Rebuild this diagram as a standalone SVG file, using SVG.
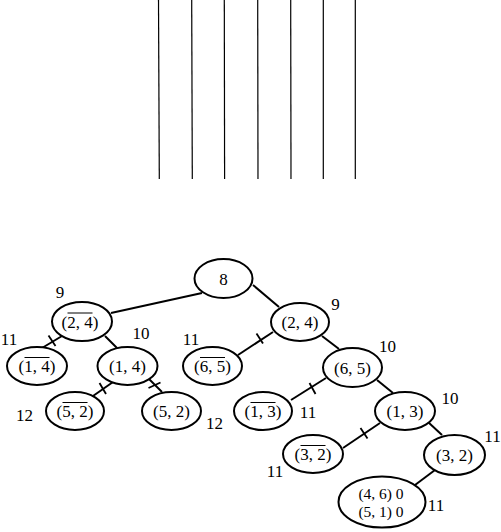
<svg xmlns="http://www.w3.org/2000/svg" width="501" height="532" viewBox="0 0 501 532">
<style>
.n{fill:#fff;stroke:#000;stroke-width:2}
.t{font-family:"Liberation Serif","DejaVu Serif",serif;font-size:17px;text-anchor:middle;fill:#000}
.s{font-size:15.5px}
.e{stroke:#000;stroke-width:2;fill:none}
.k{stroke:#000;stroke-width:1.8}
.o{stroke:#000;stroke-width:1}
.v{stroke:#000;stroke-width:1.2}
</style>
<rect width="501" height="532" fill="#fff"/>
<g id="bars">
<line class="v" x1="158.5" y1="0" x2="159.3" y2="179"/>
<line class="v" x1="191.7" y1="0" x2="192.3" y2="179"/>
<line class="v" x1="224.3" y1="0" x2="224.6" y2="179"/>
<line class="v" x1="257.7" y1="0" x2="258" y2="179"/>
<line class="v" x1="290.7" y1="0" x2="291" y2="179"/>
<line class="v" x1="323.3" y1="0" x2="323.3" y2="179"/>
<line class="v" x1="355.3" y1="0" x2="355.3" y2="179"/>
</g>
<g id="connectors">
<line class="e" x1="202" y1="293" x2="111" y2="313"/>
<line class="e" x1="253" y1="285" x2="279" y2="307"/>
<line class="e" x1="62" y1="336" x2="42" y2="348"/>
<line class="k" x1="48.5" y1="335.5" x2="55.5" y2="346"/>
<line class="e" x1="105" y1="336" x2="117" y2="348"/>
<line class="e" x1="113" y1="382" x2="93" y2="396"/>
<line class="k" x1="99.5" y1="383" x2="106" y2="394"/>
<line class="e" x1="148" y1="378" x2="162" y2="392"/>
<line class="k" x1="148.5" y1="388" x2="160.5" y2="382.5"/>
<line class="e" x1="273" y1="332" x2="238" y2="355"/>
<line class="k" x1="256.5" y1="333.5" x2="263" y2="343.5"/>
<line class="e" x1="322" y1="336" x2="339" y2="349"/>
<line class="e" x1="326" y1="378" x2="291" y2="400"/>
<line class="k" x1="309.5" y1="383" x2="315.5" y2="394"/>
<line class="e" x1="377" y1="380" x2="393" y2="393"/>
<line class="e" x1="380" y1="423" x2="343" y2="448"/>
<line class="k" x1="360.5" y1="428" x2="367.5" y2="438.5"/>
<line class="e" x1="428" y1="422" x2="442" y2="435"/>
<line class="e" x1="435" y1="470" x2="415" y2="485"/>
</g>
<g id="n8"><ellipse class="n" cx="223.5" cy="278.5" rx="29" ry="19.5"/><text class="t" x="223.5" y="284.5">8</text></g>
<g id="n24bar"><ellipse class="n" cx="82" cy="321.5" rx="30" ry="19.5"/><text class="t" x="80" y="327.5">(2, 4)</text><line class="o" x1="67.5" y1="313" x2="92.5" y2="313"/></g>
<g id="n24"><ellipse class="n" cx="300" cy="322" rx="29" ry="19"/><text class="t" x="300" y="328">(2, 4)</text></g>
<g id="n14bar"><ellipse class="n" cx="37" cy="366" rx="30" ry="19"/><text class="t" x="37" y="372">(1, 4)</text><line class="o" x1="24.5" y1="357.5" x2="49.5" y2="357.5"/></g>
<g id="n14"><ellipse class="n" cx="127.5" cy="366" rx="30" ry="19"/><text class="t" x="127.5" y="372">(1, 4)</text></g>
<g id="n65bar"><ellipse class="n" cx="212.5" cy="366" rx="29.5" ry="19"/><text class="t" x="212.5" y="372">(6, 5)</text><line class="o" x1="200" y1="357.5" x2="225" y2="357.5"/></g>
<g id="n65"><ellipse class="n" cx="352.5" cy="367.5" rx="29.5" ry="19.5"/><text class="t" x="352.5" y="373.5">(6, 5)</text></g>
<g id="n52bar"><ellipse class="n" cx="75" cy="411" rx="29" ry="19"/><text class="t" x="75" y="417">(5, 2)</text><line class="o" x1="62.5" y1="402.5" x2="87.5" y2="402.5"/></g>
<g id="n52"><ellipse class="n" cx="171.5" cy="411" rx="29.5" ry="19"/><text class="t" x="171.5" y="417">(5, 2)</text></g>
<g id="n13bar"><ellipse class="n" cx="263" cy="411" rx="29" ry="19"/><text class="t" x="263" y="417">(1, 3)</text><line class="o" x1="250.5" y1="402.5" x2="275.5" y2="402.5"/></g>
<g id="n13"><ellipse class="n" cx="405" cy="411" rx="30" ry="19"/><text class="t" x="405" y="417">(1, 3)</text></g>
<g id="n32bar"><ellipse class="n" cx="313" cy="454" rx="30" ry="19"/><text class="t" x="313" y="460">(3, 2)</text><line class="o" x1="300.5" y1="445.5" x2="325.5" y2="445.5"/></g>
<g id="n32"><ellipse class="n" cx="454.5" cy="455" rx="30.5" ry="20"/><text class="t" x="454.5" y="461">(3, 2)</text></g>
<g id="nleaf"><ellipse class="n" cx="382" cy="502" rx="43.5" ry="25.5"/><text class="t s" x="381" y="499">(4, 6) 0</text><text class="t s" x="381" y="517">(5, 1) 0</text></g>
<g id="labels" class="t">
<text x="60" y="298">9</text>
<text x="9" y="345">11</text>
<text x="141" y="339">10</text>
<text x="191" y="345">11</text>
<text x="24.5" y="420.5">12</text>
<text x="214.5" y="429">12</text>
<text x="335.5" y="310">9</text>
<text x="387.5" y="351.7">10</text>
<text x="308" y="418">11</text>
<text x="450" y="404">10</text>
<text x="492.5" y="441.7">11</text>
<text x="275" y="477">11</text>
<text x="436" y="510.7">11</text>
</g>
</svg>
